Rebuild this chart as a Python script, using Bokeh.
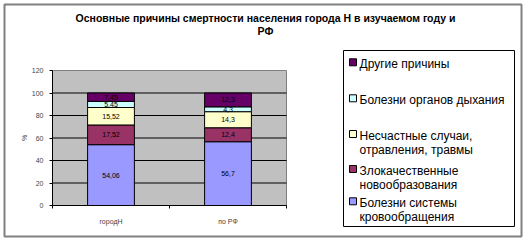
from bokeh.plotting import figure
from bokeh.models import (Range1d, FixedTicker, ColumnDataSource, LinearAxis)
from bokeh.embed import file_html
from bokeh.resources import INLINE
from bokeh.core.properties import value

# ---- data ----
title_lines = ["Основные причины смертности населения города Н в изучаемом году и", "РФ"]
categories = ["городН", "по РФ"]
series_names = [
    "Болезни системы кровообращения",
    "Злокачественные новообразования",
    "Несчастные случаи, отравления, травмы",
    "Болезни органов дыхания",
    "Другие причины",
]
legend_lines = [
    ["Болезни системы", "кровообращения"],
    ["Злокачественные", "новообразования"],
    ["Несчастные случаи,", "отравления, травмы"],
    ["Болезни органов дыхания"],
    ["Другие причины"],
]
circulatory = [54.06, 56.7]
neoplasms = [17.52, 12.4]
accidents = [15.52, 14.3]
respiratory = [5.45, 4.3]
other = [7.45, 12.3]
series_values = [circulatory, neoplasms, accidents, respiratory, other]
colors = ["#9999FF", "#993366", "#FFFFCC", "#CCFFFF", "#660066"]
y_ticks = [0, 20, 40, 60, 80, 100, 120]
y_label = "%"

# ---- layout (canvas pixels) ----
FONT = "Liberation Sans"
W, H = 528, 244
PL, PR, PT, PB = 52, 286, 70, 205          # plot area
YMAX = y_ticks[-1]
ncat = len(categories)
px_x = (PR - PL) / ncat
px_y = (PB - PT) / YMAX

p = figure(width=W, height=H, output_backend="svg", toolbar_location=None,
           x_range=Range1d(0, W), y_range=Range1d(H, 0),
           x_axis_location=None, y_axis_location=None,
           min_border=0, min_border_left=0, min_border_right=0,
           min_border_top=0, min_border_bottom=0)
p.outline_line_color = None
p.background_fill_color = "white"
p.border_fill_color = "white"
p.grid.visible = False

# chart scales: category index / percent, mapped onto the plot area
p.extra_x_ranges = {"cx": Range1d(-PL / px_x, ncat + (W - PR) / px_x)}
p.extra_y_ranges = {"cy": Range1d(-(H - PB) / px_y, YMAX + PT / px_y)}
R = dict(x_range_name="cx", y_range_name="cy")

# outer chart border
p.quad(left=[4], right=[521], top=[4], bottom=[236], fill_color=None,
       line_color="#808080", line_width=2)

# title
p.text(x=[265, 265], y=[17.5, 30], text=title_lines, text_align="center",
       text_baseline="alphabetic", text_font=value(FONT), text_font_size="10.5px",
       text_font_style="bold", text_color="black")

# plot area
p.quad(left=[0], right=[ncat], bottom=[0], top=[YMAX], fill_color="#C0C0C0",
       line_color="#808080", line_width=1, **R)
inner = y_ticks[1:-1]
p.segment(x0=[0] * len(inner), x1=[ncat] * len(inner), y0=inner, y1=inner,
          line_color="black", line_width=1, **R)

# stacked bars
xc = [i + 0.5 for i in range(ncat)]
data = {"x": xc}
keys = []
for i, vals in enumerate(series_values):
    k = f"s{i}"
    data[k] = vals
    keys.append(k)
src = ColumnDataSource(data)
p.vbar_stack(keys, x="x", width=0.4, source=src, fill_color=colors,
             line_color="black", line_width=1, **R)

# value labels
lx, ly, lt = [], [], []
for j, x in enumerate(xc):
    base = 0.0
    for vals in series_values:
        v = vals[j]
        lx.append(x)
        ly.append(base + v / 2)
        lt.append(f"{v:g}".replace(".", ","))
        base += v
p.text(x="x", y="y", text="t", source=ColumnDataSource(dict(x=lx, y=ly, t=lt)),
       text_align="center", text_baseline="middle", text_font=value(FONT),
       text_font_size="7px", text_color="black", **R)

# y axis
yax = LinearAxis(ticker=FixedTicker(ticks=y_ticks), fixed_location=0,
                 bounds=(0, YMAX), **R)
yax.axis_line_color = "black"
yax.major_tick_line_color = "black"
yax.major_tick_out = 3
yax.major_tick_in = 0
yax.minor_tick_line_color = None
yax.major_label_text_font = FONT
yax.major_label_text_font_size = "7px"
yax.major_label_standoff = 6
yax.axis_label = y_label
yax.axis_label_text_font = FONT
yax.axis_label_text_font_size = "7px"
yax.axis_label_text_font_style = "normal"
yax.axis_label_standoff = 1
p.add_layout(yax, "left")

# x axis
xax = LinearAxis(ticker=FixedTicker(ticks=xc, minor_ticks=list(range(ncat + 1))),
                 fixed_location=0, bounds=(0, ncat), **R)
xax.major_label_overrides = {x: c for x, c in zip(xc, categories)}
xax.axis_line_color = "black"
xax.major_tick_line_color = None
xax.major_tick_out = 0
xax.major_tick_in = 0
xax.minor_tick_line_color = "black"
xax.minor_tick_out = 3
xax.minor_tick_in = 0
xax.major_label_text_font = FONT
xax.major_label_text_font_size = "7px"
xax.major_label_standoff = 9
p.add_layout(xax, "below")

# legend
p.quad(left=[343], right=[514], top=[50], bottom=[226], fill_color="white",
       line_color="black", line_width=1)
entry_tops = [197.3, 165, 130, 94.3, 58.3]  # bottom series first
sw_l, sw_r, sw_t, sw_b = [], [], [], []
tx, ty, tt = [], [], []
for lines, top in zip(legend_lines, entry_tops):
    sw_l.append(349); sw_r.append(356); sw_t.append(top); sw_b.append(top + 7)
    for k, line in enumerate(lines):
        tx.append(359); ty.append(top + 5.5 + 14 * k); tt.append(line)
p.quad(left=sw_l, right=sw_r, top=sw_t, bottom=sw_b, fill_color=colors,
       line_color="black", line_width=1)
p.text(x=tx, y=ty, text=tt, text_align="left", text_baseline="alphabetic",
       text_font=value(FONT), text_font_size="12px", text_color="black")

open("out.html", "w").write(file_html(p, INLINE))
